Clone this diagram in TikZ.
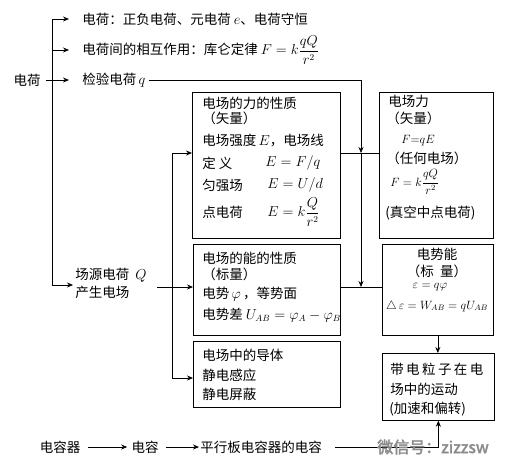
\documentclass[tikz,border=0pt]{standalone}
\usepackage{amsmath}
\usepackage{fontspec}
\setmainfont{Noto Sans CJK SC}
\newfontfamily\wmfont[FakeBold=2.5]{Noto Sans CJK SC}
\usetikzlibrary{arrows.meta}
\tikzset{
  arr/.style={-{Stealth[length=6pt,width=5pt]}},
  txt/.style={inner sep=0pt, anchor=west},
  ctr/.style={inner sep=0pt, anchor=center},
  box/.style={draw, line width=0.7pt, anchor=north west, inner sep=0pt},
  sm/.style={font=\fontsize{11.5}{13}\selectfont},
}
\newcommand{\gsp}{\hspace{2.4pt}}
\begin{document}
\begin{tikzpicture}[x=1pt,y=-1pt, line width=0.7pt, font=\fontsize{13.5}{16}\selectfont]
\useasboundingbox[fill=white] (0,0) rectangle (513,463);

% boxes
\node[box, minimum width=148pt, minimum height=146pt] (b1) at (192,92) {};
\node[box, minimum width=147pt, minimum height=91pt] (b2) at (193,244) {};
\node[box, minimum width=147pt, minimum height=66pt] (b3) at (193,341) {};
\node[box, minimum width=114pt, minimum height=146pt] (b4) at (379,92) {};
\node[box, minimum width=111pt, minimum height=91pt] (b5) at (382,244) {};
\node[box, minimum width=112pt, minimum height=67pt] (b6) at (382,353) {};

% left column texts
\node[ctr] (dh) at (27,80) {电荷};
\node[txt] (t1) at (82,19) {电荷：正负电荷、元电荷\ $e$、电荷守恒};
\node[txt] (t2) at (82,50) {电荷间的相互作用：库仑定律\ $F=k\dfrac{qQ}{r^2}$};
\node[txt] (t3) at (82,80) {检验电荷\,$q$};
\node[txt, align=left] (t4) at (75,283) {场源电荷\ \ $Q$\\[2pt]产生电场};

% box 1
\node[txt] (b1a) at (202,103) {电场的力的性质};
\node[txt] (b1b) at (202,118) {（矢量）};
\node[txt] (b1c) at (202,141) {电场强度\,$E$，电场线};
\node[txt] (b1d) at (202,163) {定\ 义};
\node[txt] (b1e) at (265,163) {$E=F/q$};
\node[txt] (b1f) at (202,185) {匀强场};
\node[txt] (b1g) at (267,185) {$E=U/d$};
\node[txt] (b1h) at (202,212) {点电荷};
\node[txt] (b1i) at (267,212) {$E=k\dfrac{Q}{r^2}$};

% box 2
\node[txt] (b2a) at (202,258) {电场的能的性质};
\node[txt] (b2b) at (202,274) {（标量）};
\node[txt] (b2c) at (202,294) {电势\,$\varphi$\,，等势面};
\node[txt] (b2d) at (202,315) {电势差\ $U_{AB}=\varphi_A-\varphi_B$};

% box 3
\node[txt] (b3a) at (202,355) {电场中的导体};
\node[txt] (b3b) at (202,375) {静电感应};
\node[txt] (b3c) at (202,394) {静电屏蔽};

% box 4
\node[txt] (b4a) at (388,101) {电场力};
\node[txt] (b4b) at (386,118) {（矢量）};
\node[ctr, sm] (b4c) at (418,141) {$F{=}qE$};
\node[txt] (b4d) at (386,158) {（任何电场）};
\node[txt, sm] (b4e) at (390,182) {$F=k\dfrac{qQ}{r^2}$};
\node[txt] (b4f) at (385,213) {(真空中点电荷)};

% box 5
\node[ctr] (b5a) at (437,254) {电势能};
\node[ctr] (b5b) at (437,271) {（标\ \ 量）};
\node[ctr, sm] (b5c) at (430,287) {$\varepsilon=q\varphi$};
\node[ctr, sm] (b5d) at (437,306) {$\triangle\,\varepsilon=W_{AB}=qU_{AB}$};

% box 6
\node[txt] (b6a) at (390,369) {带\gsp 电\gsp 粒\gsp 子\gsp 在\gsp 电};
\node[txt] (b6b) at (390,389) {场中的运动};
\node[txt] (b6c) at (389,409) {(加速和偏转)};

% bottom row
\node[ctr] (c1) at (60,447) {电容器};
\node[ctr] (c2) at (145,447) {电容};
\node[txt] (c3) at (200,447) {平行板电容器的电容};

% left bracket connectors
\coordinate (L1) at (52,19);
\coordinate (L2) at (52,50);
\coordinate (L4) at (52,285);
\draw (L1) -- (L4);
\draw[arr, shorten >=13pt] (L1) -- (L1 -| t1.west);
\draw[arr, shorten >=13pt] (L2) -- (L2 -| t2.west);
\draw[arr, shorten <=5pt, shorten >=13pt] (dh.east) -- (t3.west);
\draw[arr, shorten >=2pt] (L4) -- (L4 -| t4.west);

% source charge connectors
\coordinate (q0) at (157,287);
\coordinate (j1) at (172,153);
\coordinate (j3) at (172,378);
\draw (j1) -- (j3);
\draw[arr] (j1) -- (b1.west |- j1);
\draw[arr] (q0) -- (b2.west |- q0);
\draw[arr] (j3) -- (b3.west |- j3);

% test charge connectors
\coordinate (r0) at (361,80);
\coordinate (r1) at (361,153);
\coordinate (r2) at (361,287);
\draw[arr, shorten <=3pt] (t3.east) -- (r0) -- (r1);
\draw[arr] (r1) -- (r2);
\draw (b1.east |- r1) -- (b4.west |- r1);
\draw (b2.east |- r2) -- (b5.west |- r2);

% energy -> motion
\draw[arr] (b5.south) -- (b5.south |- b6.north);

% bottom connectors
\coordinate (c4) at (b6.south |- c3);
\draw[arr, shorten <=7pt, shorten >=4pt] (c1.east) -- (c2.west);
\draw[arr, shorten <=7pt, shorten >=1pt] (c2.east) -- (c3.west);
\draw[arr, shorten <=13pt] (c3.east) -- (c4) -- (b6.south);

% watermark
\node[ctr, text=black!45, font=\wmfont\fontsize{16}{18}\selectfont] (wm) at (433,447) {微信号：zizzsw};
\end{tikzpicture}
\end{document}
